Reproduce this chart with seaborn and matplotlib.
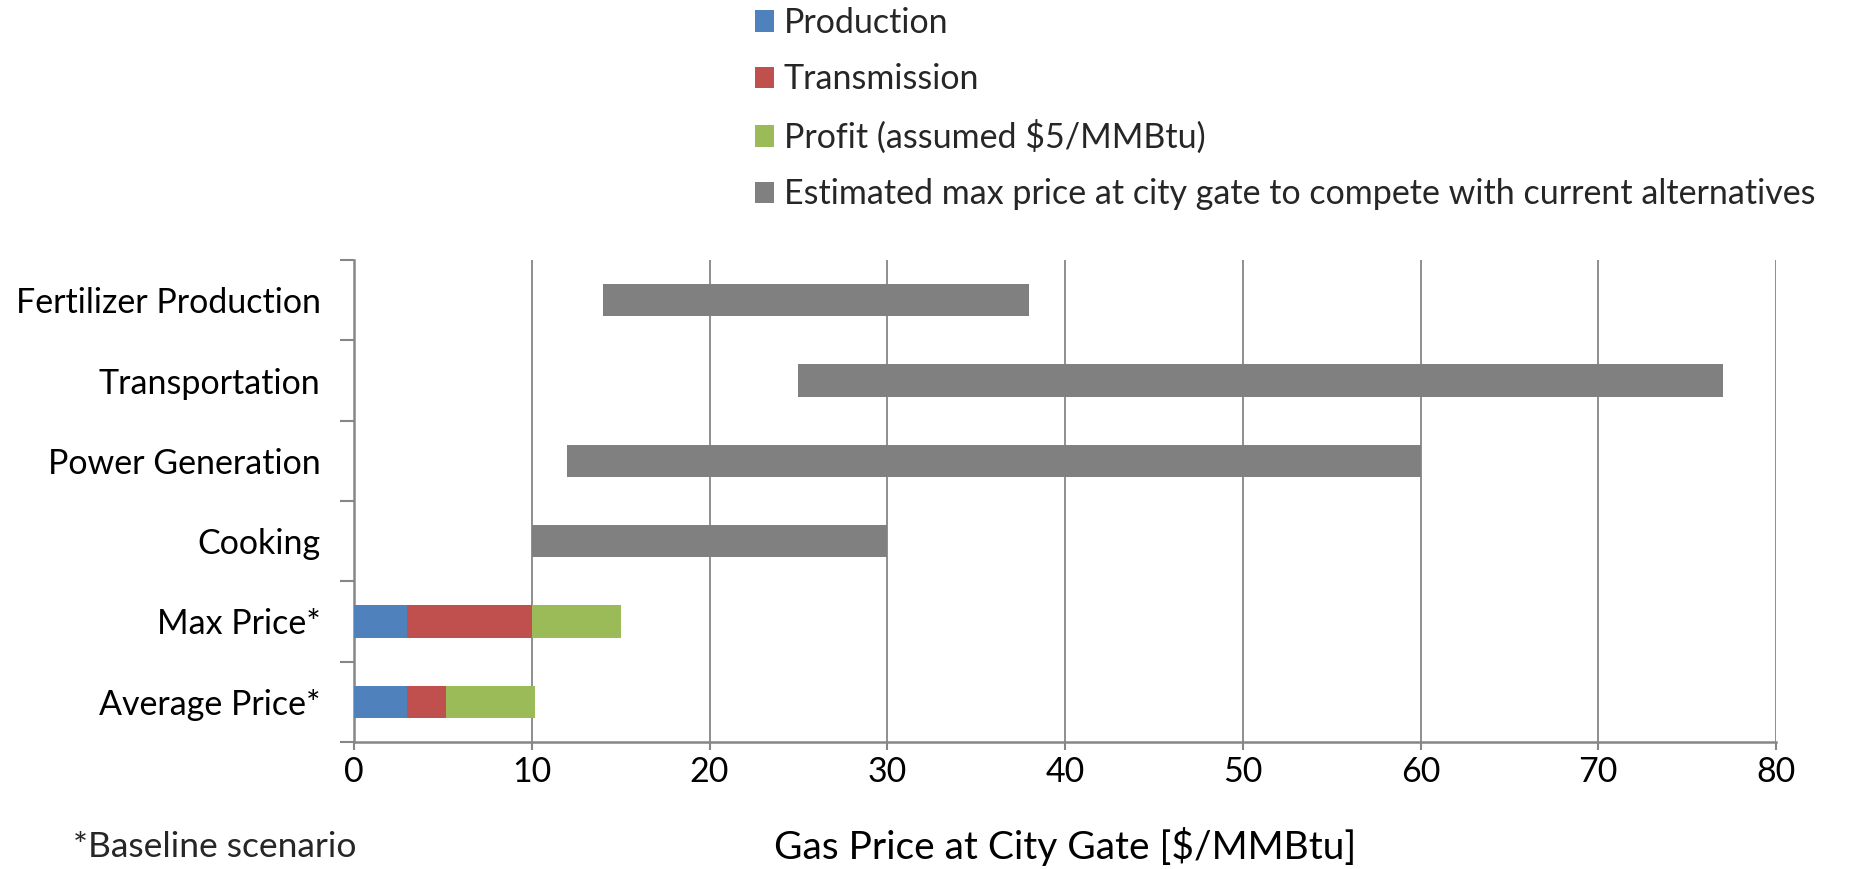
import numpy as np
import pandas as pd
import seaborn as sns
import matplotlib.pyplot as plt
from matplotlib.patches import Patch

# ================= DATA =================
categories = ["Fertilizer Production", "Transportation", "Power Generation",
              "Cooking", "Max Price*", "Average Price*"]

price_cats = ["Max Price*", "Average Price*"]
production = [3.0, 3.0]
transmission = [7.0, 2.2]
profit = [5.0, 5.0]

range_cats = ["Fertilizer Production", "Transportation", "Power Generation", "Cooking"]
range_low = [14, 25, 12, 10]
range_high = [38, 77, 60, 30]

legend_labels = ["Production", "Transmission", "Profit (assumed $5/MMBtu)",
                 "Estimated max price at city gate to compete with current alternatives"]

# ================= STYLE =================
sns.set_theme(style="white")
plt.rcParams["font.family"] = ["Lato", "DejaVu Sans"]

BLUE, RED, GREEN, GRAY = "#4F81BD", "#C0504D", "#9BBB59", "#808080"
AXIS = "#868686"
FS = 24.5

fig = plt.figure(figsize=(18.5, 8.69), dpi=100)
ax = fig.add_axes([354 / 1850, 1 - 742 / 869, (1776 - 354) / 1850, (742 - 260) / 869])

# ================= STACKED BARS (layered cumulative) =================
df = pd.DataFrame({"cat": price_cats, "prod": production,
                   "trans": transmission, "profit": profit})
df["c1"] = df["prod"]
df["c2"] = df["prod"] + df["trans"]
df["c3"] = df["c2"] + df["profit"]

for col, colr in [("c3", GREEN), ("c2", RED), ("c1", BLUE)]:
    sns.barplot(data=df, x=col, y="cat", order=categories, orient="h",
                color=colr, saturation=1, width=0.4, linewidth=0, ax=ax, zorder=3)

# ================= RANGE BARS =================
ypos = [categories.index(c) for c in range_cats]
ax.barh(ypos, np.array(range_high) - np.array(range_low), left=range_low,
        height=0.4, color=GRAY, linewidth=0, zorder=3)

# ================= AXES =================
ax.set_xlim(0, 80)
ax.set_ylim(5.5, -0.5)
ax.set_xticks(range(0, 81, 10))
ax.set_yticks(range(len(categories)), categories)
ax.set_yticks(np.arange(-0.5, len(categories), 1), minor=True)
ax.tick_params(axis="y", which="major", length=0, pad=24, labelsize=FS, labelcolor="black")
ax.tick_params(axis="y", which="minor", length=10, width=1.5, color=AXIS, direction="out", left=True)
ax.tick_params(axis="x", which="major", length=6, width=1.5, color=AXIS, direction="out",
               bottom=True, pad=4, labelsize=FS, labelcolor="black")

ax.xaxis.grid(True, color=AXIS, linewidth=1.3)
ax.yaxis.grid(False)
ax.set_axisbelow(True)
for s in ["top", "right"]:
    ax.spines[s].set_visible(False)
for s in ["left", "bottom"]:
    ax.spines[s].set_color(AXIS)
    ax.spines[s].set_linewidth(1.8)

ax.set_ylabel("")
ax.set_xlabel("Gas Price at City Gate [$/MMBtu]", fontsize=28, color="black")
ax.xaxis.set_label_coords(0.5, (742 - 847) / 482)
ax.xaxis.label.set_va("center")

fig.text(73 / 1850, 1 - 847 / 869, "*Baseline scenario", fontsize=25.5, va="center", ha="left")

# ================= LEGEND =================
handles = [Patch(facecolor=c, edgecolor="none") for c in [BLUE, RED, GREEN, GRAY]]
fig.legend(handles, legend_labels, loc="upper left", bbox_to_anchor=(748 / 1850, 1.0),
           frameon=False, fontsize=FS, handlelength=0.55, handleheight=0.6,
           handletextpad=0.3, labelspacing=0.72, borderpad=0, borderaxespad=0.2)

fig.savefig("out.png", dpi=100)
